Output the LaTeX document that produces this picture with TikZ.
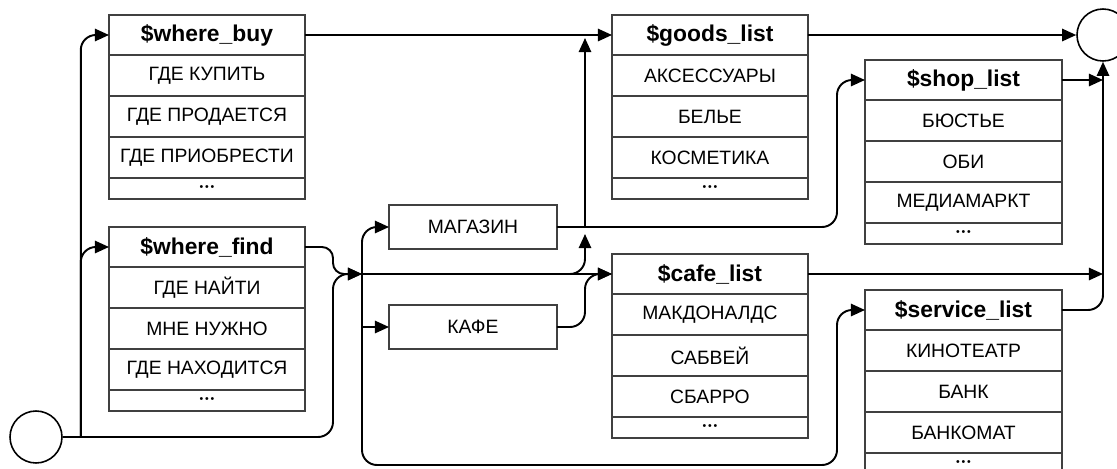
\documentclass[tikz,border=0pt]{standalone}
\usepackage{fontspec}
\setmainfont{Liberation Sans}
\usetikzlibrary{arrows.meta,positioning,calc}

\tikzset{
	cell/.style={draw=black!75, line width=0.9pt, minimum width=3.92cm, minimum height=0.82cm, inner sep=0pt, outer sep=0pt, font=\fontsize{11}{13}\selectfont},
	head/.style={cell, minimum height=0.8cm, anchor=north west, font=\fontsize{13}{15}\selectfont\bfseries},
	more/.style={cell, minimum height=0.42cm, font=\fontsize{6}{6}\selectfont},
	word/.style={cell, minimum width=3.36cm, minimum height=0.88cm},
	term/.style={circle, draw, line width=0.9pt, minimum size=1.04cm, inner sep=0pt},
	link/.style={-{Triangle[length=8pt,width=7pt]}, line width=1.1pt, rounded corners=0.3cm},
}

\begin{document}
\begin{tikzpicture}[x=0.02cm,y=-0.02cm]
	\useasboundingbox (0,0) rectangle (1117,468);

	% ou acheter
	\node[head] (buy) at (109,15) {\$where\_buy};
	\node[cell, below=0pt of buy] (buy1) {ГДЕ КУПИТЬ};
	\node[cell, below=0pt of buy1] (buy2) {ГДЕ ПРОДАЕТСЯ};
	\node[cell, below=0pt of buy2] (buy3) {ГДЕ ПРИОБРЕСТИ};
	\node[more, below=0pt of buy3] (buy4) {•\,•\,•};

	% ou trouver
	\node[head] (find) at (109,227) {\$where\_find};
	\node[cell, below=0pt of find] (find1) {ГДЕ НАЙТИ};
	\node[cell, below=0pt of find1] (find2) {МНЕ НУЖНО};
	\node[cell, below=0pt of find2] (find3) {ГДЕ НАХОДИТСЯ};
	\node[more, below=0pt of find3] (find4) {•\,•\,•};

	% produits
	\node[head] (goods) at (612,15) {\$goods\_list};
	\node[cell, below=0pt of goods] (goods1) {АКСЕССУАРЫ};
	\node[cell, below=0pt of goods1] (goods2) {БЕЛЬЕ};
	\node[cell, below=0pt of goods2] (goods3) {КОСМЕТИКА};
	\node[more, below=0pt of goods3] (goods4) {•\,•\,•};

	% magasins
	\node[head, minimum width=3.94cm] (shop) at (865,60) {\$shop\_list};
	\node[cell, minimum width=3.94cm, below=0pt of shop] (shop1) {БЮСТЬЕ};
	\node[cell, minimum width=3.94cm, below=0pt of shop1] (shop2) {ОБИ};
	\node[cell, minimum width=3.94cm, below=0pt of shop2] (shop3) {МЕДИАМАРКТ};
	\node[more, minimum width=3.94cm, below=0pt of shop3] (shop4) {•\,•\,•};

	% cafes
	\node[head] (cafe) at (612,254) {\$cafe\_list};
	\node[cell, below=0pt of cafe] (cafe1) {МАКДОНАЛДС};
	\node[cell, below=0pt of cafe1] (cafe2) {САБВЕЙ};
	\node[cell, below=0pt of cafe2] (cafe3) {СБАРРО};
	\node[more, below=0pt of cafe3] (cafe4) {•\,•\,•};

	% services
	\node[head, minimum width=3.94cm] (serv) at (865,290) {\$service\_list};
	\node[cell, minimum width=3.94cm, below=0pt of serv] (serv1) {КИНОТЕАТР};
	\node[cell, minimum width=3.94cm, below=0pt of serv1] (serv2) {БАНК};
	\node[cell, minimum width=3.94cm, below=0pt of serv2] (serv3) {БАНКОМАТ};
	\node[more, minimum width=3.94cm, below=0pt of serv3] (serv4) {•\,•\,•};

	\node[word] (mag) at (473,227) {МАГАЗИН};
	\node[word] (kafe) at (473,327) {КАФЕ};

	\node[term] (start) at (36,437) {};
	\node[term] (stop) at (1103,35) {};

	\coordinate (s1) at ($(start.east)+(18,0)$);
	\coordinate (fork) at (362,274);
	\coordinate (cross) at (585,227);

	% depart
	\draw[link] (s1) |- (buy.west);
	\draw[link] (s1) |- (find.west);
	\draw[link] (start.east) -| (333,274) -- (fork);
	\draw[link, rounded corners=0.22cm] (find.east) -| (333,274) -- (fork);

	% carrefour
	\draw[link] (fork) |- (mag.west);
	\draw[link, sharp corners] (fork) |- (kafe.west);
	\draw[link] (fork) |- (837,465) |- (serv.west);
	\draw[link] (fork) -- (cafe.west);
	\draw[link] (fork) -| ($(cross)+(0,7)$);

	% magasin et cafe
	\draw[link] (mag.east) -| ($(shop.west)+(-28,0)$) -- (shop.west);
	\draw[link] (cross) -- ($(cross |- buy.east)+(0,3)$);
	\draw[link] (kafe.east) -| (585,274) -- (cafe.west);

	% sortie
	\draw[link] (buy.east) -- (goods.west);
	\draw[link] (goods.east) -- (stop.west);
	\draw[link] (shop.east) -- (shop.east -| stop.south);
	\draw[link] (cafe.east) -- (cafe.east -| stop.south);
	\draw[link] (serv.east) -| (stop.south);
\end{tikzpicture}
\end{document}
